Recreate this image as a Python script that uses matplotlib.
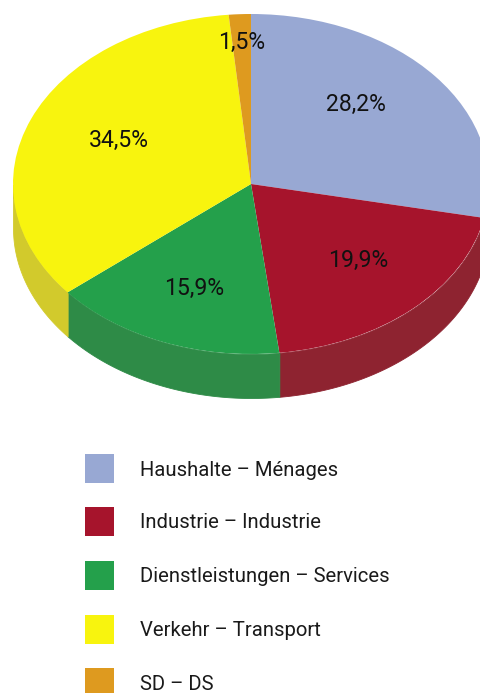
"""
Pie chart of energy use by sector, drawn as a tilted disc
"""

import matplotlib

matplotlib.use("Agg")
import matplotlib.pyplot as plt
import numpy as np
from matplotlib.patches import Rectangle

labels = [
    "Haushalte – Ménages",
    "Industrie – Industrie",
    "Dienstleistungen – Services",
    "Verkehr – Transport",
    "SD – DS",
]
shares = [28.2, 19.9, 15.9, 34.5, 1.5]
share_labels = ["28,2%", "19,9%", "15,9%", "34,5%", "1,5%"]
colors = ["#98A8D3", "#A6142C", "#24A04B", "#F8F40E", "#DE9A1F"]
wall_colors = ["#7F8DB2", "#8E2330", "#2E8B47", "#D2CA2C", "#B8821E"]

W, H = 480, 693
CX, CY, RX, RY, DEPTH = 251, 184, 238, 170, 44
FONT = "Roboto"


def to_x(px):
    return (px - CX) / RX


def to_y(py):
    return (CY - py) / RY


fig = plt.figure(figsize=(W / 100, H / 100), dpi=100, facecolor="white")
ax = fig.add_axes([0, 0, 1, 1])

# Side wall, only the part of each slice on the front of the disc
depth = DEPTH / RY
edges = 90 - np.cumsum([0] + shares) * 3.6
for i in range(len(shares)):
    t = np.radians(np.linspace(edges[i], edges[i + 1], 200))
    front = np.sin(t) <= 0
    if front.any():
        ax.fill_between(
            np.cos(t[front]),
            np.sin(t[front]),
            np.sin(t[front]) - depth,
            color=wall_colors[i],
            linewidth=0.6,
        )

# Top face
ax.pie(shares, colors=colors, startangle=90, counterclock=False, radius=1, center=(0, 0))
ax.set_aspect("auto")
ax.set_xlim(to_x(0), to_x(W))
ax.set_ylim(to_y(H), to_y(0))
ax.axis("off")

# Share labels
label_px = [(356, 104), (358, 260), (194, 288), (119, 140), (242, 42)]
for text, (px, py) in zip(share_labels, label_px):
    ax.text(to_x(px), to_y(py), text, ha="center", va="center",
            fontsize=16.6, color="#111111", family=FONT)

# Legend
legend_top = [454, 507, 561, 615, 668]
for name, color, top in zip(labels, colors, legend_top):
    ax.add_patch(
        Rectangle((85 / W, 1 - (top + 29) / H), 28.5 / W, 29 / H,
                  transform=ax.transAxes, facecolor=color, edgecolor="none", clip_on=True)
    )
    ax.text(140 / W, 1 - (top + 16) / H, name, transform=ax.transAxes, ha="left", va="center",
            fontsize=14.6, color="#1a1a1a", family=FONT)

fig.savefig("out.png", dpi=100)
